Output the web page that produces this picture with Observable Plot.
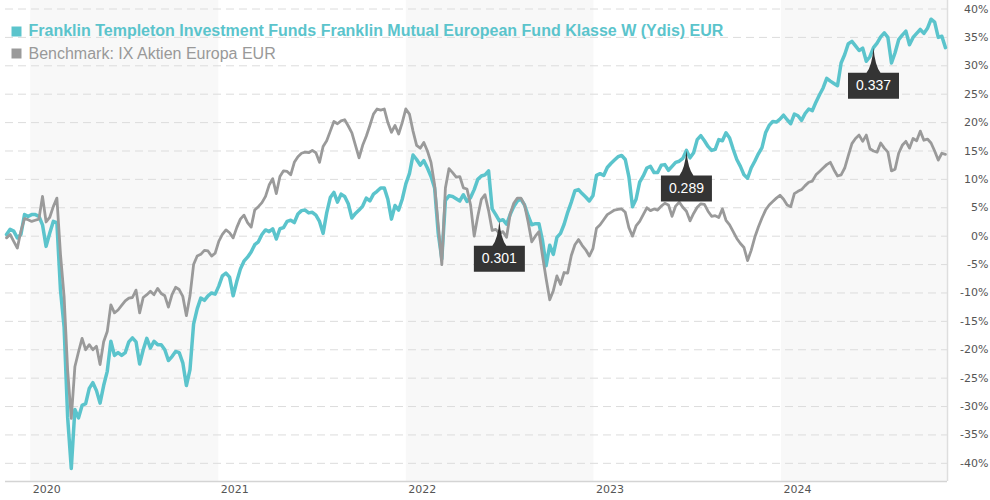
<!DOCTYPE html>
<html><head><meta charset="utf-8">
<script src="https://cdn.jsdelivr.net/npm/d3@7"></script>
<script src="https://cdn.jsdelivr.net/npm/@observablehq/plot@0.6"></script>
<style>
html,body{margin:0;padding:0;background:#fff;}
#chart{width:990px;height:500px;overflow:hidden;}
</style></head><body><div id="chart"></div>
<script>
// weekly observations starting at this date
const startDate = "2019-11-15";
const stepDays = 7;
const fund = [
0.3, 1.2, 0.9, -0.3, 0.3, 3.8, 3.5, 3.8, 3.8, 3.5,
2.0, -1.8, 0.5, 2.6, 2.4, -9.5, -16, -32, -40.9, -30.5,
-32, -29.8, -29.5, -26.8, -25.8, -27.2, -29.4, -26.3, -23.8, -18.5,
-21, -20.5, -21, -20.5, -18.6, -17.9, -18.6, -22.5, -20, -18,
-19.7, -18.5, -19.1, -19.1, -20, -21.9, -21.2, -20.3, -20.5, -22.3,
-26.3, -23.5, -15.5, -12.8, -10.9, -11.3, -10.5, -10, -10.2, -8.8,
-7, -6.5, -7.2, -10.5, -8, -5.8, -4.4, -3.7, -2.8, -1.5,
-1, 0.3, 1.1, 0.8, 1.3, -0.5, 1.3, 1.5, 2.6, 2.8,
2.4, 3.9, 4.5, 4.6, 4.1, 4.2, 3.7, 2.6, 0.5, 4.1,
6.8, 7.7, 6, 7.4, 7, 5.7, 3.2, 4, 4.6, 5.3,
6.7, 6.2, 7.4, 7.9, 8.5, 8.5, 6.5, 3.0, 5.4, 4.6,
6.5, 9.2, 11, 14.3, 13.5, 12.5, 13.3, 12, 10.5, 8.5,
0.5, -4.0, 6.3, 7.1, 7, 6.6, 6.2, 7.3, 6.1, 6.8,
8.2, 10, 10.6, 10.8, 11.5, 4.8, 3.8, 2.7, 2.9, 2.1,
3.8, 5.2, 6.2, 6.5, 5.5, 3.6, 2, 2.2, 2.2, -0.8,
-5.2, -1.6, -3.2, -0.2, 0.5, 2.1, 4.2, 6.0, 8, 8.2,
7.5, 6.9, 6.2, 7.1, 10.7, 11, 10.7, 12.1, 12.8, 13.4,
14, 14.2, 13.5, 10.5, 5.2, 6.5, 9.5, 10.6, 12, 12.3,
11.2, 11.2, 12.5, 12.6, 11.6, 12.3, 13, 13.2, 13.7, 15.1,
13.8, 14.7, 17, 17.7, 16.8, 15.8, 15.1, 15.3, 17, 16.8,
18.2, 17.3, 15.3, 13.5, 12.3, 10.8, 10.2, 12, 13.2, 14.5,
15.6, 18.2, 19.5, 20.2, 20.1, 20.6, 21.3, 20.5, 19.8, 21.5,
21.2, 20.4, 21.6, 22.4, 22.1, 23.6, 24.9, 26.1, 27.8, 27.3,
26.9, 26.5, 30.5, 32, 33.9, 34.3, 33.5, 32.7, 33.1, 30.8,
31.6, 33.2, 34, 35.1, 35.8, 35, 30.5, 32.3, 34.6, 35.4,
36.1, 33.7, 35, 35.7, 36.4, 35.7, 36.6, 38.2, 37.7, 35,
35.2, 33.2
];
const benchmark = [
-0.3, 0.3, -0.9, -2.1, 0.9, 3.1, 2.9, 2.6, 2.8, 3.0,
7.0, 2.5, 3.3, 5.2, 6.7, -3.2, -10.6, -23.7, -32.1, -23,
-20.4, -18, -20, -19.1, -20, -19.4, -22.6, -18.6, -16.8, -12.1,
-13.5, -13, -12.2, -11.4, -10.9, -10.8, -9.5, -13.5, -10.8, -10.3,
-9.7, -10.3, -9.2, -10.1, -10.5, -12.5, -10.3, -9, -9.4, -10.6,
-14, -10.5, -5, -3.5, -3.2, -2.5, -2.6, -3.5, -3, -0.9,
0.3, 1.1, 0.6, -0.3, 1.5, 3, 3.7, 2.4, 1.6, 4.6,
5.2, 5.9, 7, 9, 10.1, 7.5, 10.5, 11.5, 11.4, 10.8,
13, 14, 14.6, 14.8, 14.7, 15.1, 14.7, 13, 15.8, 16.8,
18.5, 20.2, 19.8, 20.3, 20.5, 19.4, 18.2, 16, 13.8, 16,
17.6, 19.5, 21.5, 22.4, 22.2, 22.4, 20, 18.3, 19.5, 18,
20, 22.4, 21.5, 18.5, 16, 15.5, 16.5, 15, 13, 9,
2, -5, 8.5, 11.9, 11.2, 10.4, 10.5, 8.5, 8.3, 5.5,
0, 3.5, 6.5, 7.3, 4.5, 1, 1.2, 0.5, 0.8, -0.2,
3.9, 5.8, 6.7, 6.7, 5.5, 2.5, -1, 0, 0.8, -3.5,
-7.5, -11.2, -9.6, -7, -8.5, -6.4, -6.5, -3.4, -1.5, -0.6,
-1.6, -2.4, -3.5, -2.2, 1.4, 2, 2.9, 3.8, 4.2, 4.6,
4.7, 4.8, 4.2, 1.5, 0, 1.8, 2.6, 3.8, 5, 4.5,
4.8, 4.6, 5.3, 5.8, 5.5, 3.5, 5.3, 6, 5.1, 4.4,
2.7, 4, 5.1, 5.7, 5.6, 4.4, 3.5, 3.6, 3.3, 4.8,
2.8, 2, 0.8, -0.4, -1.3, -2, -4.3, -2.5, -0.2, 1.6,
3.2, 4.6, 5.5, 6.1, 6.7, 7.2, 6.5, 5.5, 5.2, 7.5,
7.9, 8.2, 8.9, 9.5, 9.7, 10.8, 11.4, 12, 12.6, 13,
11.7, 10.6, 10.8, 12, 14.2, 16.3, 17.2, 17.8, 16.7, 17.8,
15.4, 15, 14.8, 16.4, 15.5, 14.8, 11.5, 11.8, 14.6, 16,
16.7, 15.5, 17.2, 16.8, 18.5, 16.9, 17.1, 16.4, 15, 13.4,
14.6, 14.4
];
const yearTicks = ["2020-01-01", "2021-01-01", "2022-01-01", "2023-01-01", "2024-01-01"];
const shadedYears = [["2020-01-01", "2021-01-01"], ["2022-01-01", "2023-01-01"], ["2024-01-01", "2024-11-19"]];
const yTicks = [-40, -35, -30, -25, -20, -15, -10, -5, 0, 5, 10, 15, 20, 25, 30, 35, 40];
const annDates = ["2022-07-01", "2023-06-30", "2024-06-28"];
const annLabels = ["0.301", "0.289", "0.337"];
const fundName = "Franklin Templeton Investment Funds Franklin Mutual European Fund Klasse W (Ydis) EUR";
const benchName = "Benchmark: IX Aktien Europa EUR";

const teal = "#5bc4cc";
const grey = "#9a9a9a";
const xDomain = [new Date("2019-11-13"), new Date("2024-11-19")];
const yDomain = [-43.2, 41.5];

const dates = fund.map((_, i) => d3.utcDay.offset(new Date(startDate), i * stepDays));
const fundRows = dates.map((d, i) => ({date: d, value: fund[i]}));
const benchRows = dates.map((d, i) => ({date: d, value: benchmark[i]}));
const bands = shadedYears.map(([a, b]) => ({x1: new Date(a), x2: new Date(b)}));
const annRows = annDates.map((s, k) => {
  const d = new Date(s);
  const i = dates.findIndex(t => +t === +d);
  return {date: d, value: fund[i], label: annLabels[k]};
});

const callout = {
  draw(ctx) {
    ctx.moveTo(0, 0);
    ctx.quadraticCurveTo(1.5, 18, 7, 25);
    ctx.lineTo(25.5, 25);
    ctx.lineTo(25.5, 51);
    ctx.lineTo(-25.5, 51);
    ctx.lineTo(-25.5, 25);
    ctx.lineTo(-7, 25);
    ctx.quadraticCurveTo(-1.5, 18, 0, 0);
    ctx.closePath();
  }
};

const chart = Plot.plot({
  width: 990,
  height: 500,
  marginLeft: 5,
  marginRight: 43,
  marginTop: 0,
  marginBottom: 19,
  style: {fontFamily: "DejaVu Sans", fontSize: "11px", background: "#fff", overflow: "visible"},
  x: {type: "utc", domain: xDomain, label: null},
  y: {domain: yDomain, label: null},
  marks: [
    Plot.rect(bands, {x1: "x1", x2: "x2", y1: yDomain[0], y2: yDomain[1], fill: "#f8f8f8"}),
    Plot.ruleY(yTicks, {stroke: "#dcdcdc", strokeDasharray: "8,5", strokeWidth: 1}),
    Plot.ruleY([yDomain[0]], {stroke: "#d4d4d4", strokeWidth: 1.5}),
    Plot.ruleX([xDomain[1]], {stroke: "#dedede", strokeWidth: 1.5}),
    Plot.axisY(yTicks, {anchor: "right", tickSize: 0, tickPadding: 0, dx: 41, textAnchor: "end", label: null,
      tickFormat: d => d + "%", fill: "#555", fontSize: 11}),
    Plot.axisX(yearTicks.map(s => new Date(s)), {anchor: "bottom", tickSize: 0, tickPadding: 4, textAnchor: "start", dx: 2, label: null,
      tickFormat: d3.utcFormat("%Y"), fill: "#555", fontSize: 11}),
    Plot.line(fundRows, {x: "date", y: "value", stroke: teal, strokeWidth: 3.5, strokeLinejoin: "round"}),
    Plot.line(benchRows, {x: "date", y: "value", stroke: grey, strokeWidth: 2.8, strokeLinejoin: "round"}),
    Plot.dot(annRows, {x: "date", y: "value", symbol: callout, r: 5, fill: "#343434", stroke: "none"}),
    Plot.text(annRows, {x: "date", y: "value", text: "label", dy: 38, fill: "#fff", fontSize: 14, fontFamily: "Liberation Sans"}),
    Plot.dot([0], {frameAnchor: "top-left", dx: 11, dy: 31, symbol: "square", r: 5.64, fill: teal}),
    Plot.text([fundName], {frameAnchor: "top-left", dx: 23, dy: 35, text: d => d, textAnchor: "start", lineAnchor: "bottom",
      fill: teal, fontWeight: "bold", fontSize: 16, fontFamily: "Liberation Sans"}),
    Plot.dot([0], {frameAnchor: "top-left", dx: 11, dy: 53, symbol: "square", r: 5.64, fill: grey}),
    Plot.text([benchName], {frameAnchor: "top-left", dx: 23, dy: 58, text: d => d, textAnchor: "start", lineAnchor: "bottom",
      fill: "#999", fontSize: 16, fontFamily: "Liberation Sans"})
  ]
});
document.getElementById("chart").append(chart);
</script>
</body></html>
